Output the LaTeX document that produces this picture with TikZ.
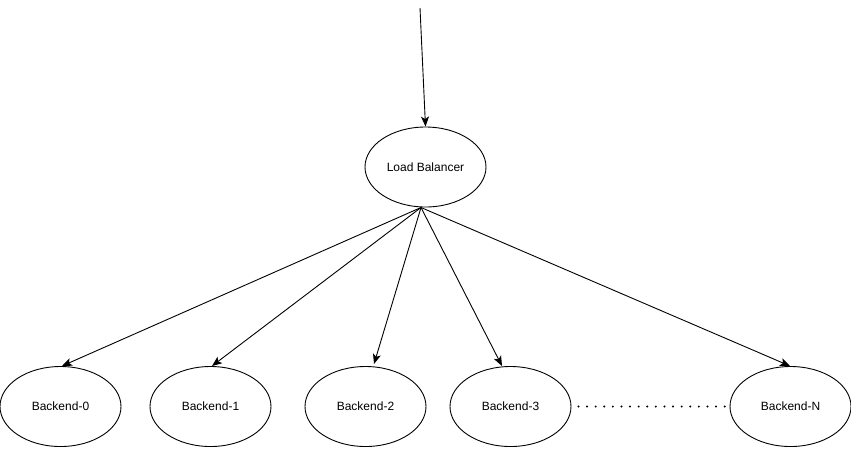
\documentclass[tikz,border=0pt]{standalone}
\usepackage{fontspec}
\setmainfont{Liberation Sans}
\usetikzlibrary{shapes.geometric,arrows.meta}
\begin{document}
\begin{tikzpicture}[x=1pt,y=-1pt,
  oval/.style={draw,ellipse,line width=0.9pt,minimum width=121pt,minimum height=80pt,inner sep=0pt,font=\fontsize{12}{14}\selectfont},
  conn/.style={line width=0.9pt,-{Stealth[length=10pt,width=8pt,inset=2.5pt]}}]
\useasboundingbox (0,0) rectangle (851,448);
\node[oval] (lb) at (425.5,167) {Load Balancer};
\node[oval] (b0) at (60.5,406.5) {Backend-0};
\node[oval] (b1) at (210.5,406.5) {Backend-1};
\node[oval] (b2) at (365.5,406.5) {Backend-2};
\node[oval] (b3) at (510.5,406.5) {Backend-3};
\node[oval] (bn) at (790.5,406.5) {Backend-N};
\coordinate (src) at (420,8);
\coordinate (hub) at (421,207.5);
\draw[conn] (src) -- (lb.north);
\draw[conn] (hub) -- (62,366);
\draw[conn] (hub) -- (212,366);
\draw[conn] (hub) -- (374,364);
\draw[conn] (hub) -- (502,366);
\draw[conn] (hub) -- (790,366);
\draw[line width=2.2pt,line cap=round,dash pattern=on 0pt off 8.6pt] (b3.east) ++(7,0) -- ([xshift=-3pt]bn.west);
\end{tikzpicture}
\end{document}
